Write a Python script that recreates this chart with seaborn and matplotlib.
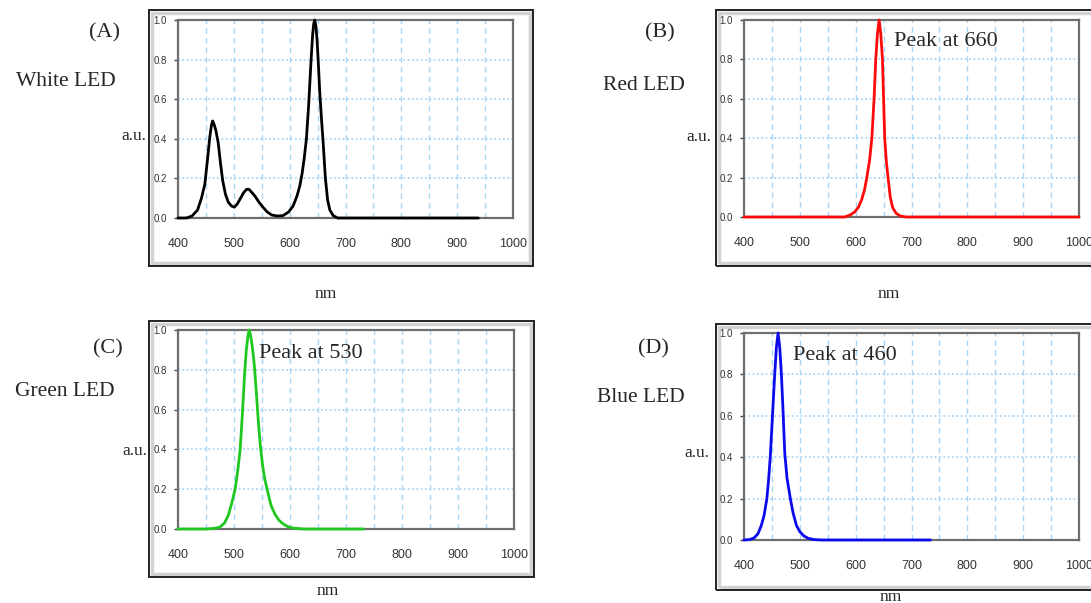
import matplotlib
matplotlib.use("Agg")
import matplotlib.pyplot as plt
import seaborn as sns
import pandas as pd
from matplotlib.ticker import MultipleLocator
from matplotlib.patches import Rectangle

# Spectra (wavelength in nm, relative intensity)
white_nm = [400, 415, 425, 435, 442, 448, 453, 457, 460, 462, 465, 468, 472, 476, 480, 485, 490,
            496, 501, 506, 512, 518, 523, 527, 532, 538, 545, 552, 560, 568, 578, 588, 598,
            606, 613, 618, 622, 626, 630, 634, 638, 641, 643, 645, 647, 649, 651, 654, 657,
            660, 664, 668, 672, 678, 686, 700, 800, 938]
white_au = [0.0, 0.0, 0.01, 0.04, 0.10, 0.17, 0.30, 0.41, 0.47, 0.49, 0.47, 0.44, 0.38, 0.28, 0.19, 0.12, 0.08,
            0.06, 0.055, 0.07, 0.10, 0.13, 0.145, 0.145, 0.13, 0.11, 0.08, 0.055, 0.03, 0.015, 0.01, 0.012, 0.03,
            0.06, 0.11, 0.16, 0.22, 0.30, 0.40, 0.57, 0.78, 0.92, 0.98, 1.0, 0.97, 0.90, 0.80, 0.63, 0.50,
            0.38, 0.20, 0.09, 0.04, 0.012, 0.0, 0.0, 0.0, 0.0]

red_nm = [400, 500, 580, 590, 598, 605, 611, 616, 620, 625, 629, 633, 636, 639, 642, 645, 648,
          650, 652, 655, 658, 662, 666, 672, 680, 690, 800, 900, 1000]
red_au = [0.0, 0.0, 0.0, 0.01, 0.025, 0.05, 0.09, 0.14, 0.20, 0.29, 0.40, 0.60, 0.80, 0.93, 1.0, 0.93, 0.80,
          0.60, 0.40, 0.28, 0.20, 0.10, 0.05, 0.02, 0.005, 0.0, 0.0, 0.0, 0.0]

green_nm = [400, 450, 465, 475, 483, 490, 496, 502, 507, 511, 515, 519, 522, 525, 527, 529, 532,
            535, 537, 540, 544, 547, 551, 555, 560, 566, 573, 580, 588, 596, 605, 615, 625, 650,
            700, 731]
green_au = [0.0, 0.0, 0.003, 0.01, 0.03, 0.07, 0.13, 0.20, 0.30, 0.40, 0.58, 0.78, 0.90, 0.97, 1.0, 0.98, 0.93,
            0.86, 0.80, 0.68, 0.52, 0.42, 0.32, 0.25, 0.19, 0.12, 0.075, 0.045, 0.025, 0.012, 0.005, 0.002, 0.0, 0.0,
            0.0, 0.0]

blue_nm = [400, 410, 418, 425, 431, 436, 441, 444, 447, 451, 455, 458, 461, 464, 467, 470, 473,
           477, 483, 488, 494, 500, 507, 515, 525, 540, 600, 700, 734]
blue_au = [0.0, 0.002, 0.01, 0.03, 0.07, 0.12, 0.20, 0.29, 0.40, 0.60, 0.80, 0.93, 1.0, 0.93, 0.80, 0.62, 0.42,
           0.30, 0.20, 0.13, 0.07, 0.04, 0.02, 0.008, 0.002, 0.0, 0.0, 0.0, 0.0]

panel_tags = ["(A)", "(B)", "(C)", "(D)"]
led_names = ["White LED", "Red LED", "Green LED", "Blue LED"]
peak_notes = [None, "Peak at 660", "Peak at 530", "Peak at 460"]
x_ticks = [400, 500, 600, 700, 800, 900, 1000]
y_ticks = [0.0, 0.2, 0.4, 0.6, 0.8, 1.0]

sns.set_style("white")
plt.rcParams['font.family'] = ['Liberation Sans', 'DejaVu Sans']

W, H = 1091, 603
fig = plt.figure(figsize=(W / 100, H / 100), dpi=100)


def fx(px):
    return px / W


def fy(py):
    return 1 - py / H


serif = ['Liberation Serif', 'DejaVu Serif']
grid_col = '#a9d6f5'

# (axes box, outer frame, text spots) in pixels
layout = [
    dict(ax=(178, 20, 513, 218), box=(149, 10, 533, 266), tag=(104, 33), name=(66, 81),
         au=(134, 136), nm=(326, 294), note=None),
    dict(ax=(744, 20, 1079, 217), box=(716, 10, 1100, 266), tag=(660, 33), name=(644, 85),
         au=(699, 137), nm=(889, 294), note=(894, 42)),
    dict(ax=(178, 330, 514, 529), box=(149, 321, 534, 577), tag=(108, 349), name=(65, 391),
         au=(135, 451), nm=(328, 591), note=(259, 354)),
    dict(ax=(744, 333, 1079, 540), box=(716, 324, 1100, 590), tag=(653, 349), name=(641, 397),
         au=(697, 453), nm=(891, 597), note=(793, 356)),
]

spectra = [
    (white_nm, white_au, 'black'),
    (red_nm, red_au, '#ff0a0a'),
    (green_nm, green_au, '#1ec81e'),
    (blue_nm, blue_au, '#0a0aeb'),
]

for i, (lay, (nm, au, col)) in enumerate(zip(layout, spectra)):
    # outer chart frame with a grey inner shadow (kept behind the axes)
    x0, y0, x1, y1 = lay['box']
    fig.patches.append(Rectangle((fx(x0 + 3), fy(y1 - 3)), fx(x1 - x0 - 6), (y1 - y0 - 6) / H,
                                 transform=fig.transFigure, fill=False, ec='#d2d2d2', lw=2.5,
                                 zorder=-2))
    fig.patches.append(Rectangle((fx(x0), fy(y1)), fx(x1 - x0), (y1 - y0) / H,
                                 transform=fig.transFigure, fill=False, ec='#222222', lw=1.4,
                                 zorder=-1))

    a0, b0, a1, b1 = lay['ax']
    ax = fig.add_axes([fx(a0), fy(b1), fx(a1 - a0), (b1 - b0) / H])
    ax.patch.set_alpha(0)
    df = pd.DataFrame({'nm': nm, 'au': au})
    sns.lineplot(data=df, x='nm', y='au', color=col, lw=2.0, ax=ax, clip_on=False, zorder=5)

    ax.set_xlim(400, 1000)
    ax.set_ylim(0, 1.0)
    ax.set_xticks(x_ticks)
    ax.set_yticks(y_ticks)
    ax.set_yticklabels(['%.1f' % v for v in y_ticks])
    ax.xaxis.set_minor_locator(MultipleLocator(50))
    ax.grid(axis='x', which='both', color=grid_col, lw=1.0, ls=(0, (4, 3)))
    ax.grid(axis='y', which='major', color=grid_col, lw=1.3, ls=(0, (1, 1.4)))
    ax.tick_params(axis='x', which='major', direction='inout', length=9, width=1, color='#444444',
                   labelsize=9, labelcolor='#333333', pad=10)
    ax.tick_params(axis='x', which='minor', length=0)
    ax.tick_params(axis='y', direction='out', length=3, width=1, color='#444444',
                   labelsize=7, labelcolor='#333333', pad=5, left=True)
    for s in ax.spines.values():
        s.set_color('#6e6e6e')
        s.set_linewidth(1.6)
    ax.set_xlabel('')
    ax.set_ylabel('')

    fig.text(fx(lay['tag'][0]), fy(lay['tag'][1]), panel_tags[i], family=serif, fontsize=16,
             ha='center', va='center')
    fig.text(fx(lay['name'][0]), fy(lay['name'][1]), led_names[i], family=serif, fontsize=15.5,
             ha='center', va='center')
    fig.text(fx(lay['au'][0]), fy(lay['au'][1]), 'a.u.', family=serif, fontsize=12.5,
             ha='center', va='center')
    fig.text(fx(lay['nm'][0]), fy(lay['nm'][1]), 'nm', family=serif, fontsize=12.5,
             ha='center', va='center')
    if peak_notes[i]:
        fig.text(fx(lay['note'][0]), fy(lay['note'][1]), peak_notes[i], family=serif, fontsize=16,
                 ha='left', va='center')

fig.savefig('out.png', dpi=100)
